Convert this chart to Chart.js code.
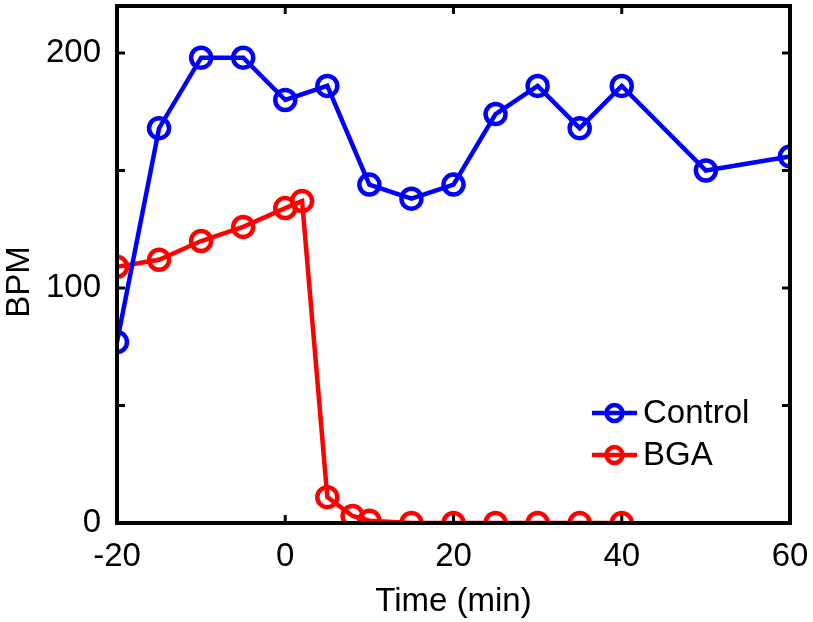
<!DOCTYPE html>
<html>
<head>
<meta charset="utf-8">
<script src="https://cdn.jsdelivr.net/npm/chart.js@4"></script>
<style>
  html, body { margin: 0; padding: 0; background: #fff; }
  #wrap { width: 813px; height: 622px; }
</style>
</head>
<body>
<div id="wrap"><canvas id="grafico" width="813" height="622"></canvas></div>
<script>
// datos
const tiempoControl = [-20, -15, -10, -5, 0, 5, 10, 15, 20, 25, 30, 35, 40, 50, 60];
const bpmControl = [77, 168, 198, 198, 180, 186, 144, 138, 144, 174, 186, 168, 186, 150, 156];

const tiempoBGA = [-20, -15, -10, -5, 0, 2, 5, 8, 10, 15, 20, 25, 30, 35, 40];
const bpmBGA = [109, 112, 120, 126, 134, 137, 11, 3, 1, 0, 0, 0, 0, 0, 0];

const etiquetasY = [0, 100, 200];

const FUENTE = '"Liberation Sans", Arial, sans-serif';

// marco con ticks hacia dentro (estilo matlab), título Y y leyenda dentro del gráfico
const marcoPlugin = {
    id: 'marco',
    afterDatasetsDraw(chart) {
        const { ctx, chartArea: a, scales } = chart;
        ctx.save();
        ctx.strokeStyle = '#000';
        ctx.lineWidth = 4;
        ctx.strokeRect(a.left, a.top, a.right - a.left, a.bottom - a.top);

        const largo = 8;
        ctx.lineWidth = 3;
        ctx.beginPath();
        scales.x.ticks.forEach(t => {
            const px = scales.x.getPixelForValue(t.value);
            ctx.moveTo(px, a.bottom); ctx.lineTo(px, a.bottom - largo);
            ctx.moveTo(px, a.top); ctx.lineTo(px, a.top + largo);
        });
        scales.y.ticks.forEach(t => {
            if (t.value % 50 !== 0) return;
            const py = scales.y.getPixelForValue(t.value);
            ctx.moveTo(a.left, py); ctx.lineTo(a.left + largo, py);
            ctx.moveTo(a.right, py); ctx.lineTo(a.right - largo, py);
        });
        ctx.stroke();

        // título eje Y
        ctx.save();
        ctx.translate(20, 282);
        ctx.rotate(-Math.PI / 2);
        ctx.fillStyle = '#000';
        ctx.font = '33px ' + FUENTE;
        ctx.textAlign = 'center';
        ctx.textBaseline = 'middle';
        ctx.fillText('BPM', 0, 0);
        ctx.restore();

        // leyenda
        const x0 = 592, x1 = 637;
        const filas = [413, 455];
        chart.data.datasets.forEach((ds, i) => {
            const y = filas[i];
            ctx.strokeStyle = ds.borderColor;
            ctx.lineWidth = 4.5;
            ctx.beginPath();
            ctx.moveTo(x0, y); ctx.lineTo(x1, y);
            ctx.stroke();
            ctx.beginPath();
            ctx.arc((x0 + x1) / 2, y, 8, 0, Math.PI * 2);
            ctx.stroke();
            ctx.fillStyle = '#000';
            ctx.font = '33px ' + FUENTE;
            ctx.textBaseline = 'middle';
            ctx.textAlign = 'left';
            ctx.fillText(ds.label, 643, y + 1);
        });
        ctx.restore();
    }
};

function crearGrafico() {
    const ctx = document.getElementById('grafico').getContext('2d');
    new Chart(ctx, {
        type: 'line',
        data: {
            datasets: [{
                label: 'Control',
                data: tiempoControl.map((t, i) => ({ x: t, y: bpmControl[i] })),
                borderColor: '#0000ff',
                backgroundColor: 'rgba(0,0,0,0)',
                borderWidth: 4.5,
                pointRadius: 10,
                pointBorderWidth: 4.5,
                pointBackgroundColor: 'rgba(0,0,0,0)',
                pointHoverRadius: 10,
                tension: 0,
                clip: 0
            }, {
                label: 'BGA',
                data: tiempoBGA.map((t, i) => ({ x: t, y: bpmBGA[i] })),
                borderColor: '#ff0000',
                backgroundColor: 'rgba(0,0,0,0)',
                borderWidth: 4.5,
                pointRadius: 10,
                pointBorderWidth: 4.5,
                pointBackgroundColor: 'rgba(0,0,0,0)',
                pointHoverRadius: 10,
                tension: 0,
                clip: 0
            }]
        },
        options: {
            responsive: false,
            animation: false,
            layout: {
                autoPadding: false,
                padding: { left: 0, right: 23, top: 6, bottom: 0 }
            },
            scales: {
                x: {
                    type: 'linear',
                    min: -20,
                    max: 60,
                    grid: { display: false, drawTicks: false },
                    border: { display: false },
                    ticks: {
                        stepSize: 20,
                        color: '#000',
                        padding: 14,
                        font: { family: FUENTE, size: 33 }
                    },
                    title: {
                        display: true,
                        text: 'Time (min)',
                        color: '#000',
                        padding: { top: 0, bottom: 0 },
                        font: { family: FUENTE, size: 33 }
                    },
                    afterFit(scale) {
                        scale.height = 99;
                        scale.paddingLeft = 0;
                        scale.paddingRight = 0;
                    }
                },
                y: {
                    min: 0,
                    max: 220,
                    grid: { display: false, drawTicks: false },
                    border: { display: false },
                    ticks: {
                        stepSize: 50,
                        color: '#000',
                        padding: 16,
                        font: { family: FUENTE, size: 33 },
                        callback: v => etiquetasY.includes(v) ? v : ''
                    },
                    afterFit(scale) {
                        scale.width = 117;
                        scale.paddingTop = 0;
                        scale.paddingBottom = 0;
                    }
                }
            },
            plugins: {
                legend: { display: false },
                tooltip: { enabled: false }
            }
        },
        plugins: [marcoPlugin]
    });
}

document.addEventListener('DOMContentLoaded', () => {
    crearGrafico();
});
</script>
</body>
</html>
